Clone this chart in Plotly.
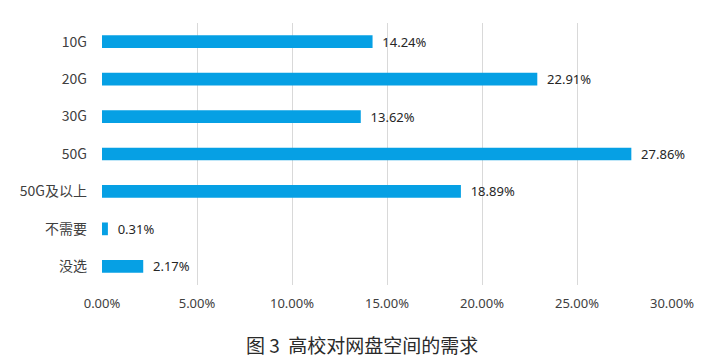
import plotly.graph_objects as go

categories = ["10G", "20G", "30G", "50G", "50G及以上", "不需要", "没选"]
values = [14.24, 22.91, 13.62, 27.86, 18.89, 0.31, 2.17]
tick_vals = [0, 5, 10, 15, 20, 25, 30]
tick_text = ["0.00%", "5.00%", "10.00%", "15.00%", "20.00%", "25.00%", "30.00%"]
caption = "图 3  高校对网盘空间的需求"

font_family = "Noto Sans CJK SC, Noto Sans, sans-serif"
label_family = "Noto Sans, Noto Sans CJK SC, sans-serif"

W, H = 727, 357
ML, MR, MT, MB = 102, 55, 23, 72
plot_w = W - ML - MR
plot_h = H - MT - MB

fig = go.Figure(go.Bar(
    y=categories,
    x=values,
    orientation="h",
    marker=dict(color="#06A0E4", line=dict(width=0)),
    width=0.34,
    text=["\u00a0\u00a0" + f"{v:.2f}%" for v in values],
    textposition="outside",
    constraintext="none",
    textfont=dict(size=13, color="#262626", family=label_family),
    cliponaxis=False,
))

fig.update_layout(
    width=W, height=H,
    margin=dict(l=ML, r=MR, t=MT, b=MB, autoexpand=False),
    plot_bgcolor="white", paper_bgcolor="white",
    showlegend=False,
    font=dict(family=font_family, size=12, color="#404040"),
    xaxis=dict(
        range=[0, 30], tickvals=tick_vals, ticktext=tick_text,
        showgrid=True, gridcolor="#D9D9D9", gridwidth=1,
        zeroline=False, showline=False, ticks="",
        tickfont=dict(size=13, color="#404040", family=label_family),
        ticklabelstandoff=9, automargin=False,
    ),
    yaxis=dict(
        autorange="reversed", showgrid=False, showline=False, ticks="",
        tickfont=dict(size=14, color="#404040", family=font_family),
        ticklabelstandoff=14, automargin=False,
    ),
    annotations=[dict(
        text=caption,
        x=(362 - ML) / plot_w, xref="paper", xanchor="center",
        y=(H - MB - 344) / plot_h, yref="paper", yanchor="middle",
        showarrow=False,
        font=dict(size=19, color="#2a2a2a", family=font_family),
    )],
)

fig.write_html(
    "out.html",
    config={"displayModeBar": False},
    post_script="document.body.style.margin='0';document.body.style.overflow='hidden';",
)
